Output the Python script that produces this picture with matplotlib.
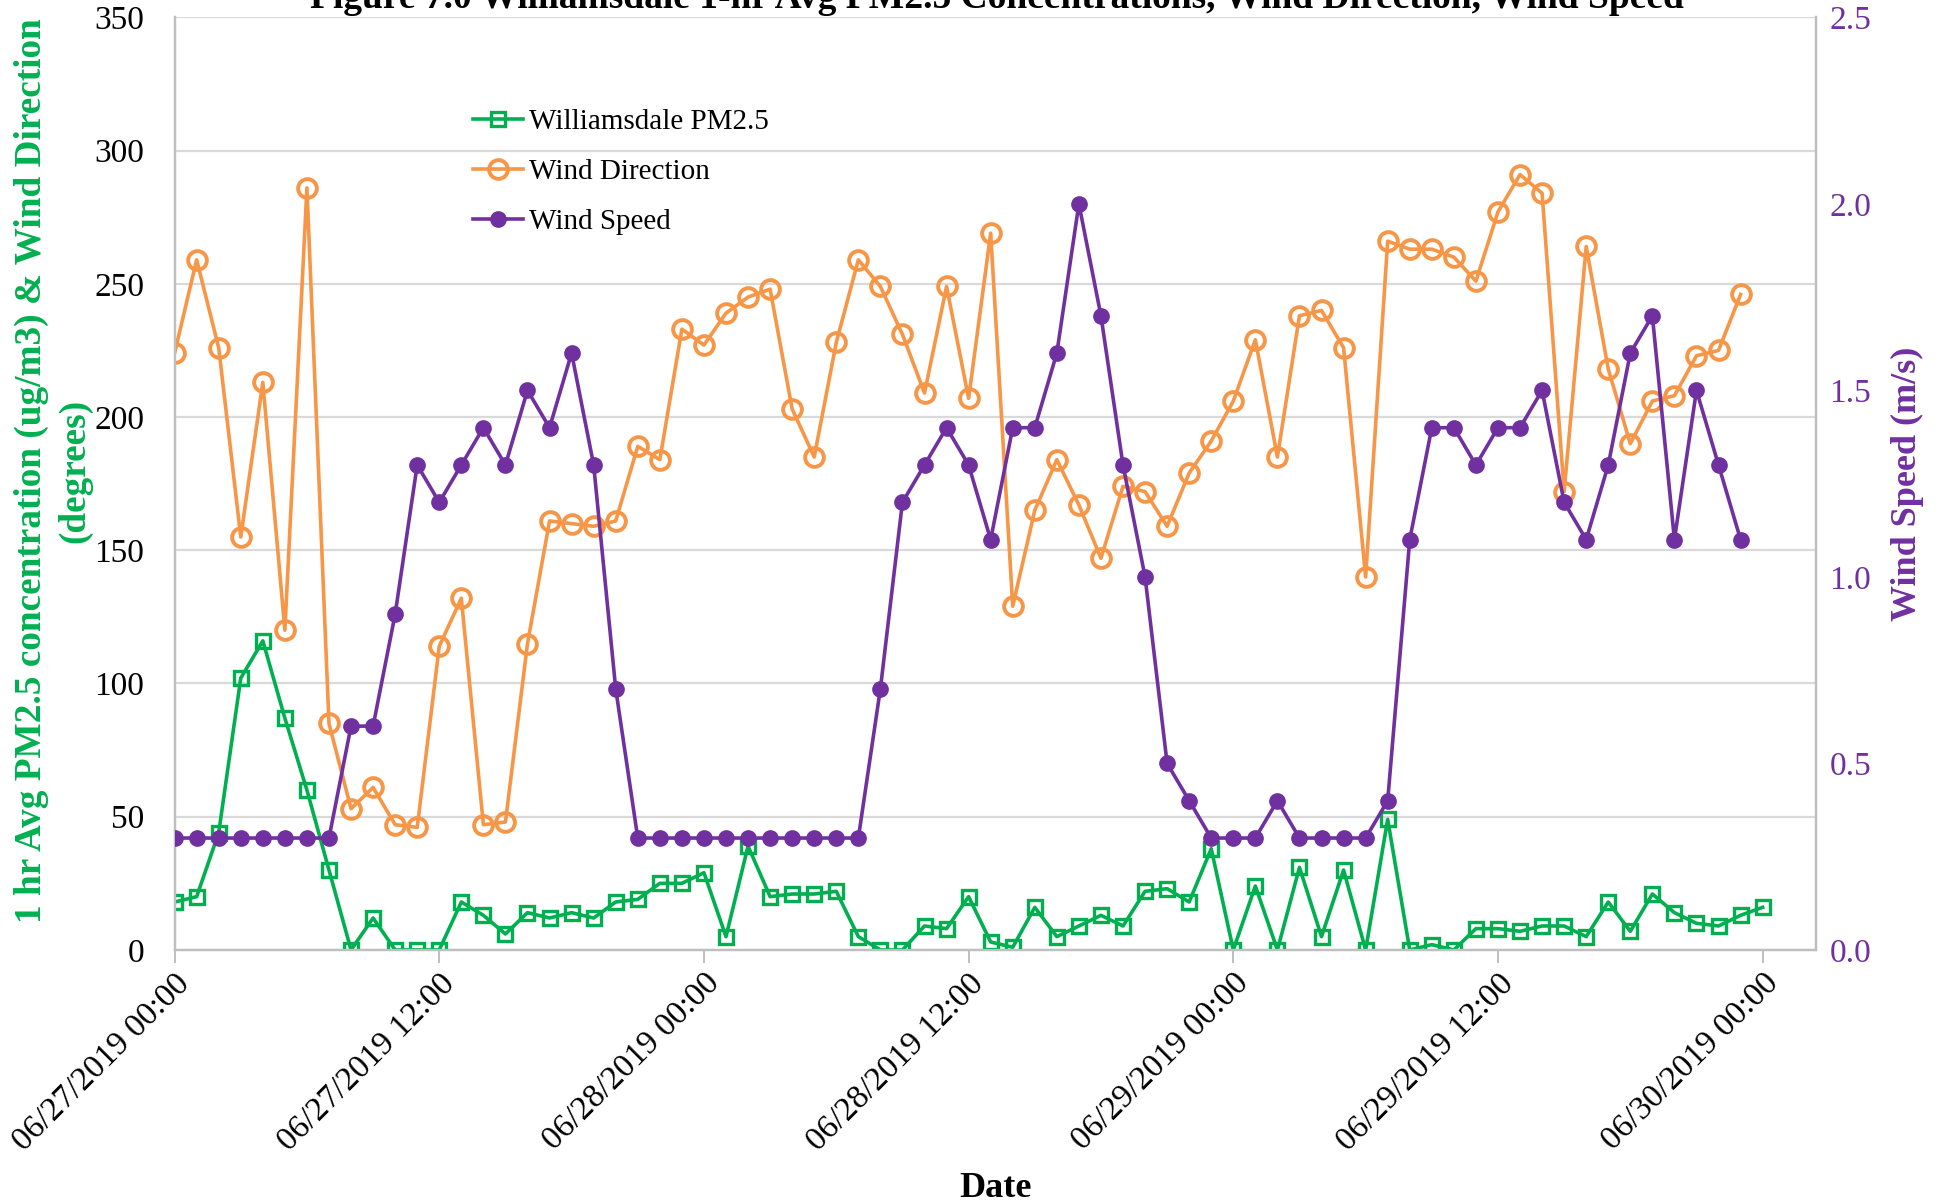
import matplotlib
matplotlib.use("Agg")
import matplotlib.pyplot as plt
from matplotlib.lines import Line2D

plt.rcParams['font.family'] = ['Liberation Serif', 'DejaVu Serif']

# hours since 06/27/2019 00:00
pm_hours = list(range(73))
wind_hours = list(range(72))

pm25 = [18, 20, 44, 102, 116, 87, 60, 30, 0, 12, 0, 0, 0, 18, 13, 6, 14, 12, 14, 12,
        18, 19, 25, 25, 29, 5, 39, 20, 21, 21, 22, 5, 0, 0, 9, 8, 20, 3, 1, 16,
        5, 9, 13, 9, 22, 23, 18, 38, 0, 24, 0, 31, 5, 30, 0, 49, 0, 2, 0, 8,
        8, 7, 9, 9, 5, 18, 7, 21, 14, 10, 9, 13, 16]

wind_dir = [224, 259, 226, 155, 213, 120, 286, 85, 53, 61, 47, 46, 114, 132, 47, 48, 115, 161, 160, 159,
            161, 189, 184, 233, 227, 239, 245, 248, 203, 185, 228, 259, 249, 231, 209, 249, 207, 269, 129, 165,
            184, 167, 147, 174, 172, 159, 179, 191, 206, 229, 185, 238, 240, 226, 140, 266, 263, 263, 260, 251,
            277, 291, 284, 172, 264, 218, 190, 206, 208, 223, 225, 246]

wind_speed = [0.3, 0.3, 0.3, 0.3, 0.3, 0.3, 0.3, 0.3, 0.6, 0.6, 0.9, 1.3, 1.2, 1.3, 1.4, 1.3, 1.5, 1.4, 1.6, 1.3,
              0.7, 0.3, 0.3, 0.3, 0.3, 0.3, 0.3, 0.3, 0.3, 0.3, 0.3, 0.3, 0.7, 1.2, 1.3, 1.4, 1.3, 1.1, 1.4, 1.4,
              1.6, 2.0, 1.7, 1.3, 1.0, 0.5, 0.4, 0.3, 0.3, 0.3, 0.4, 0.3, 0.3, 0.3, 0.3, 0.4, 1.1, 1.4, 1.4, 1.3,
              1.4, 1.4, 1.5, 1.2, 1.1, 1.3, 1.6, 1.7, 1.1, 1.5, 1.3, 1.1]

tick_hours = [0, 12, 24, 36, 48, 60, 72]
tick_labels = ['06/27/2019 00:00', '06/27/2019 12:00', '06/28/2019 00:00', '06/28/2019 12:00',
               '06/29/2019 00:00', '06/29/2019 12:00', '06/30/2019 00:00']

GREEN = '#00B050'
ORANGE = '#F79646'
PURPLE = '#7030A0'
GRID = '#D9D9D9'

fig = plt.figure(figsize=(19.42, 12.04), dpi=100)
ax = fig.add_axes([0.0899, 0.211, 0.845, 0.7746])
ax2 = ax.twinx()

pm_style = dict(color=GREEN, lw=2.6, marker='s', ms=10, mfc='none', mew=2.4)
dir_style = dict(color=ORANGE, lw=2.6, marker='o', ms=13.5, mfc='none', mew=2.8)
spd_style = dict(color=PURPLE, lw=2.6, marker='o', ms=11)

ax.plot(pm_hours, pm25, zorder=3, **pm_style)
ax.plot(wind_hours, wind_dir, zorder=4, **dir_style)
ax2.plot(wind_hours, wind_speed, zorder=5, **spd_style)

ax.set_xlim(0, 74.4)
ax.set_ylim(0, 350)
ax2.set_ylim(0, 2.5)
ax.set_yticks(range(0, 351, 50))
ax2.set_yticks([0, 0.5, 1.0, 1.5, 2.0, 2.5])
ax2.set_yticklabels(['0.0', '0.5', '1.0', '1.5', '2.0', '2.5'])

ax.set_xticks(tick_hours)
ax.set_xticklabels(tick_labels, rotation=45, ha='right', rotation_mode='anchor')

ax.grid(axis='y', color=GRID, lw=1.6)
ax.set_axisbelow(True)

for a in (ax, ax2):
    a.spines['top'].set_visible(False)
    for s in ('left', 'bottom', 'right'):
        a.spines[s].set_color('#BFBFBF')
        a.spines[s].set_linewidth(1.6)

ax.tick_params(axis='x', length=9, color='#BFBFBF', width=1.4, labelsize=24, pad=4)
ax.tick_params(axis='y', length=0, labelsize=24, pad=22)
ax2.tick_params(axis='y', length=0, labelsize=24, pad=10, labelcolor=PURPLE)

ax.set_xlabel('Date', fontsize=26, fontweight='bold', labelpad=11)
ax.set_ylabel('1 hr Avg PM2.5 concentration (ug/m3) & Wind Direction\n(degrees)',
              fontsize=26.8, fontweight='bold', color=GREEN, linespacing=1.3)
ax.yaxis.set_label_coords(-0.05, 0.514)
ax2.set_ylabel('Wind Speed (m/s)', fontsize=26, fontweight='bold', color=PURPLE, labelpad=14)

fig.text(0.5135, 1 - 7.5 / 1204, 'Figure 7.0 Williamsdale 1-hr Avg PM2.5 Concentrations, Wind Direction, Wind Speed',
         ha='center', va='baseline', fontsize=27, fontweight='bold')

handles = [Line2D([], [], **pm_style), Line2D([], [], **dir_style), Line2D([], [], **spd_style)]
ax2.legend(handles, ['Williamsdale PM2.5', 'Wind Direction', 'Wind Speed'],
           loc='upper left', bbox_to_anchor=(0.166, 0.93), frameon=False,
           fontsize=21, handlelength=1.7, handletextpad=0.2, labelspacing=0.8)

fig.savefig('out.png', dpi=100)
